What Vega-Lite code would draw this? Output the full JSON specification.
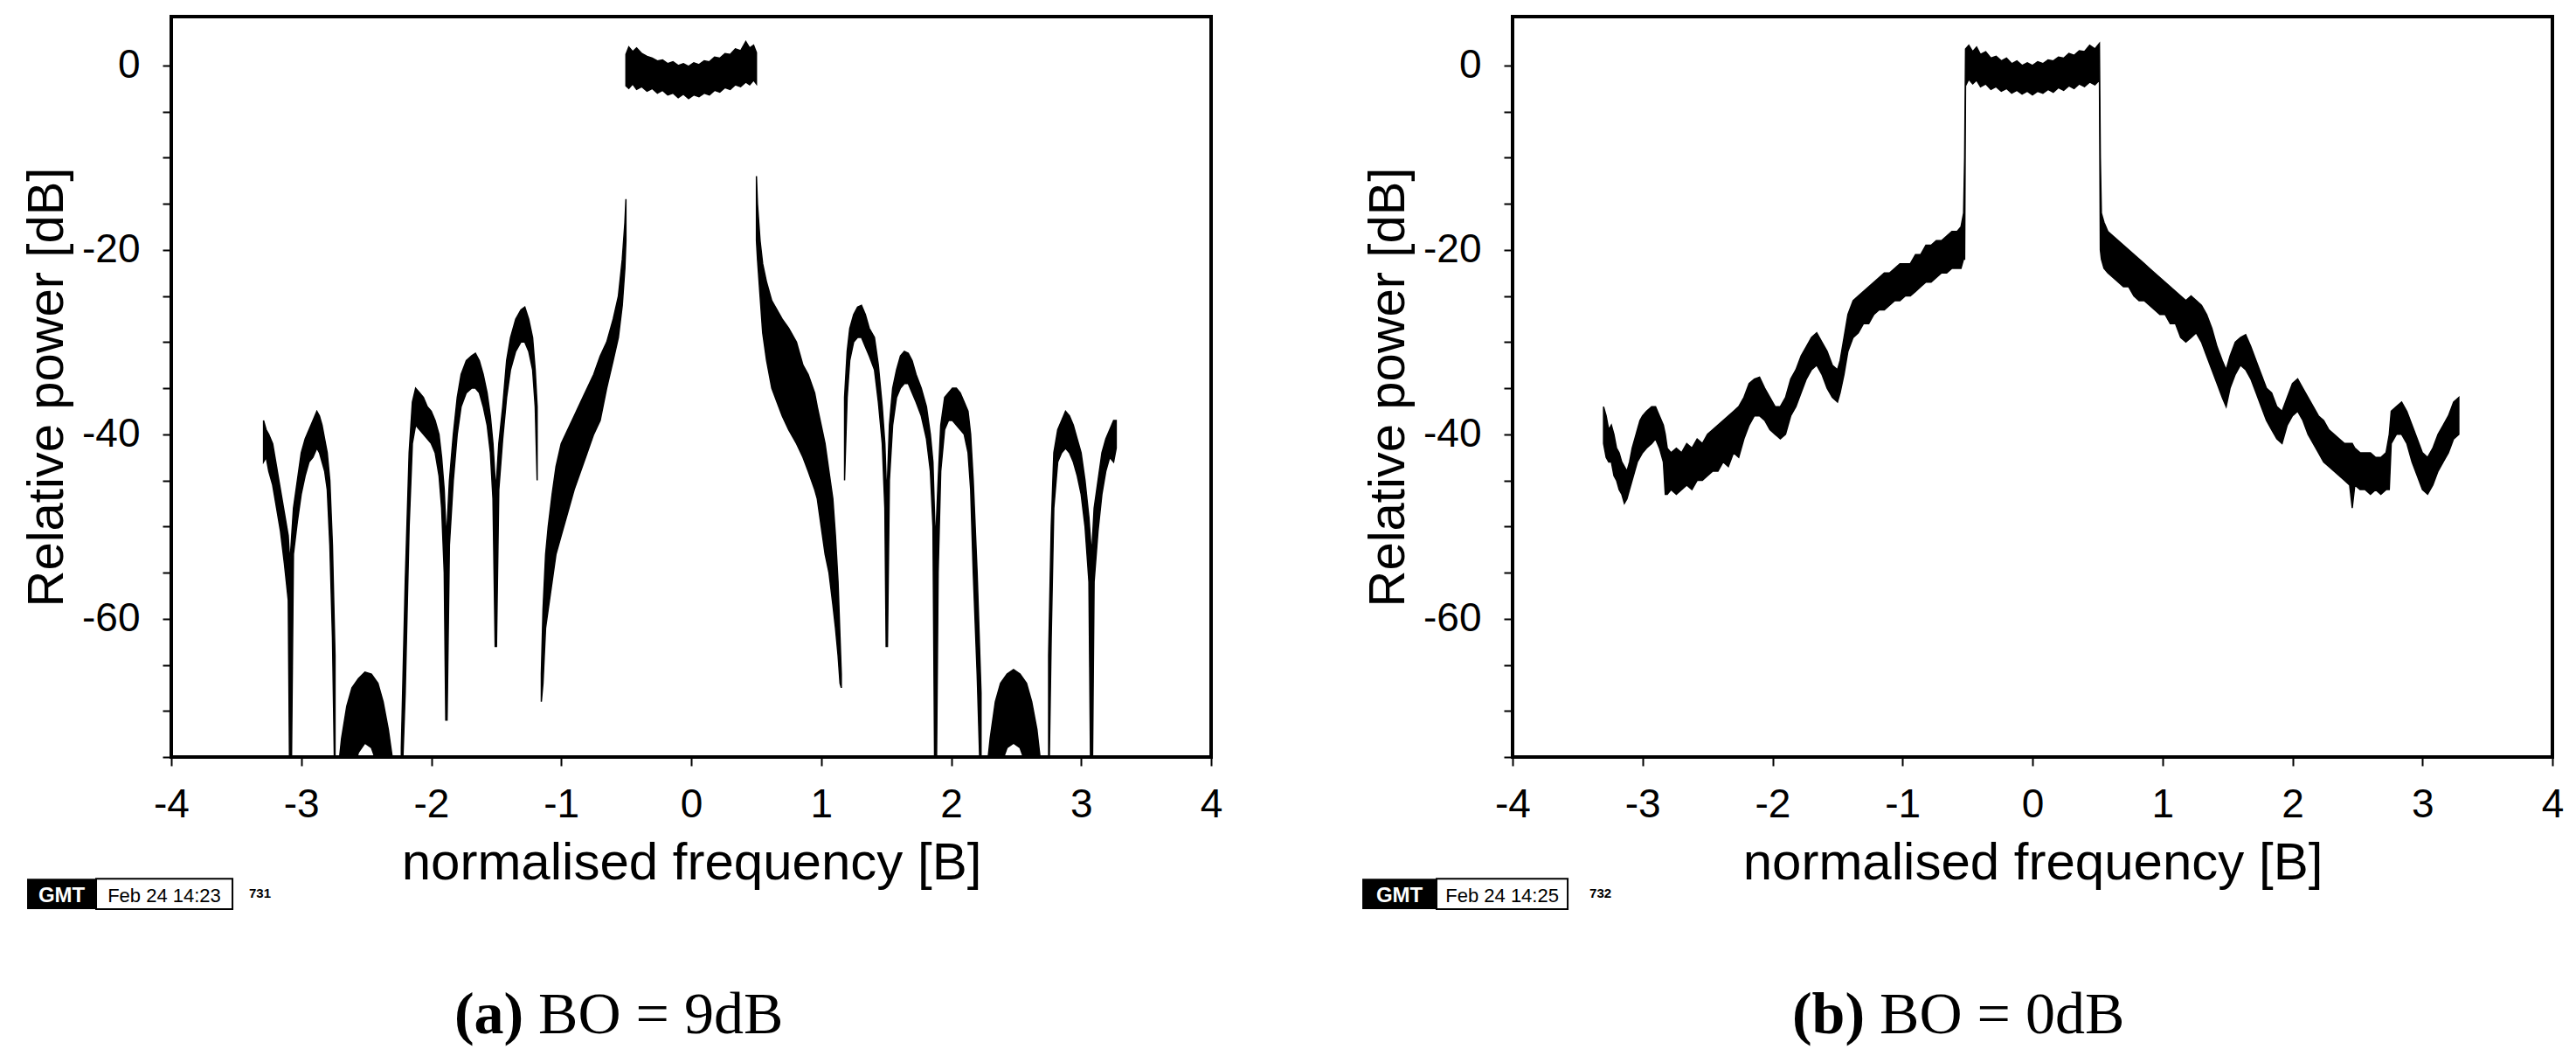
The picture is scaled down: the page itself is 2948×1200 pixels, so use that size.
{
  "$schema": "https://vega.github.io/schema/vega-lite/v6.json",
  "padding": {"left": 23, "top": 17, "right": 5, "bottom": 0},
  "background": "white",
  "spacing": 156,
  "config": {
    "view": {"stroke": "black", "strokeWidth": 4},
    "axis": {"labelFont": "Liberation Sans", "titleFont": "Liberation Sans", "labelColor": "black", "titleColor": "black", "tickColor": "black", "tickWidth": 2, "domain": false, "grid": false, "titleFontWeight": "normal", "labelOverlap": false},
    "text": {"color": "black"}
  },
  "datasets": {
    "bo9": [
      {"s": "A", "f": -3.29, "lo": -43, "hi": -38.5}, {"s": "A", "f": -3.27, "lo": -42.5, "hi": -39.5}, {"s": "A", "f": -3.25, "lo": -44, "hi": -40}, {"s": "A", "f": -3.22, "lo": -45.5, "hi": -41}, {"s": "A", "f": -3.19, "lo": -48, "hi": -43.5}, {"s": "A", "f": -3.16, "lo": -50.5, "hi": -46}, {"s": "A", "f": -3.13, "lo": -54, "hi": -48.5}, {"s": "A", "f": -3.1, "lo": -58, "hi": -51}, {"s": "A", "f": -3.088, "lo": -80, "hi": -54}, {"s": "A", "f": -3.078, "lo": -80, "hi": -52}, {"s": "A", "f": -3.06, "lo": -53, "hi": -48}, {"s": "A", "f": -3.03, "lo": -49.5, "hi": -45}, {"s": "A", "f": -3.0, "lo": -46.5, "hi": -42}, {"s": "A", "f": -2.97, "lo": -44.5, "hi": -40.5}, {"s": "A", "f": -2.94, "lo": -43, "hi": -39.5}, {"s": "A", "f": -2.91, "lo": -42.5, "hi": -38.5}, {"s": "A", "f": -2.88, "lo": -41.5, "hi": -37.5}, {"s": "A", "f": -2.86, "lo": -42, "hi": -38}, {"s": "A", "f": -2.84, "lo": -43, "hi": -39}, {"s": "A", "f": -2.82, "lo": -44, "hi": -40.5}, {"s": "A", "f": -2.8, "lo": -46, "hi": -42}, {"s": "A", "f": -2.78, "lo": -52, "hi": -45}, {"s": "A", "f": -2.76, "lo": -62, "hi": -52}, {"s": "A", "f": -2.74, "lo": -80, "hi": -64},
      {"s": "B", "f": -2.72, "lo": -80, "hi": -77}, {"s": "B", "f": -2.69, "lo": -79, "hi": -73}, {"s": "B", "f": -2.65, "lo": -80, "hi": -69.5}, {"s": "B", "f": -2.61, "lo": -77, "hi": -67.5}, {"s": "B", "f": -2.56, "lo": -74.5, "hi": -66.5}, {"s": "B", "f": -2.51, "lo": -73.5, "hi": -65.8}, {"s": "B", "f": -2.46, "lo": -74, "hi": -66}, {"s": "B", "f": -2.41, "lo": -76, "hi": -67}, {"s": "B", "f": -2.37, "lo": -80, "hi": -69}, {"s": "B", "f": -2.33, "lo": -79, "hi": -72}, {"s": "B", "f": -2.29, "lo": -80, "hi": -76},
      {"s": "C", "f": -2.23, "lo": -80, "hi": -74}, {"s": "C", "f": -2.2, "lo": -68, "hi": -56}, {"s": "C", "f": -2.17, "lo": -50, "hi": -42}, {"s": "C", "f": -2.145, "lo": -41, "hi": -36.5}, {"s": "C", "f": -2.12, "lo": -39, "hi": -35}, {"s": "C", "f": -2.09, "lo": -39.5, "hi": -35.5}, {"s": "C", "f": -2.06, "lo": -40, "hi": -36}, {"s": "C", "f": -2.03, "lo": -40.5, "hi": -37}, {"s": "C", "f": -2.0, "lo": -41, "hi": -37.5}, {"s": "C", "f": -1.97, "lo": -42, "hi": -38.5}, {"s": "C", "f": -1.94, "lo": -44.5, "hi": -40}, {"s": "C", "f": -1.92, "lo": -48, "hi": -42.5}, {"s": "C", "f": -1.9, "lo": -55, "hi": -46}, {"s": "C", "f": -1.888, "lo": -71, "hi": -50}, {"s": "C", "f": -1.878, "lo": -71, "hi": -50}, {"s": "C", "f": -1.86, "lo": -52, "hi": -45}, {"s": "C", "f": -1.83, "lo": -45, "hi": -40}, {"s": "C", "f": -1.8, "lo": -40, "hi": -36}, {"s": "C", "f": -1.77, "lo": -37, "hi": -33.5}, {"s": "C", "f": -1.73, "lo": -35.5, "hi": -32}, {"s": "C", "f": -1.69, "lo": -35, "hi": -31.5}, {"s": "C", "f": -1.66, "lo": -35, "hi": -31.2}, {"s": "C", "f": -1.63, "lo": -35.5, "hi": -32}, {"s": "C", "f": -1.6, "lo": -37, "hi": -33.5}, {"s": "C", "f": -1.57, "lo": -39, "hi": -35.5}, {"s": "C", "f": -1.545, "lo": -42, "hi": -38}, {"s": "C", "f": -1.525, "lo": -47, "hi": -41}, {"s": "C", "f": -1.508, "lo": -63, "hi": -45}, {"s": "C", "f": -1.498, "lo": -63, "hi": -45}, {"s": "C", "f": -1.48, "lo": -46, "hi": -41}, {"s": "C", "f": -1.45, "lo": -40.5, "hi": -37}, {"s": "C", "f": -1.42, "lo": -36, "hi": -32}, {"s": "C", "f": -1.39, "lo": -33, "hi": -29.5}, {"s": "C", "f": -1.35, "lo": -31, "hi": -27.5}, {"s": "C", "f": -1.31, "lo": -30, "hi": -26.5}, {"s": "C", "f": -1.28, "lo": -30, "hi": -26.2}, {"s": "C", "f": -1.25, "lo": -31, "hi": -27.5}, {"s": "C", "f": -1.22, "lo": -33, "hi": -29.5}, {"s": "C", "f": -1.2, "lo": -37, "hi": -33}, {"s": "C", "f": -1.185, "lo": -45, "hi": -37},
      {"s": "D", "f": -1.153, "lo": -69, "hi": -66}, {"s": "D", "f": -1.14, "lo": -67, "hi": -59}, {"s": "D", "f": -1.12, "lo": -61, "hi": -53}, {"s": "D", "f": -1.1, "lo": -59, "hi": -50}, {"s": "D", "f": -1.07, "lo": -56, "hi": -46.5}, {"s": "D", "f": -1.04, "lo": -53, "hi": -43.5}, {"s": "D", "f": -1.0, "lo": -51, "hi": -41}, {"s": "D", "f": -0.95, "lo": -48.5, "hi": -39.5}, {"s": "D", "f": -0.9, "lo": -46, "hi": -38}, {"s": "D", "f": -0.85, "lo": -44, "hi": -36.5}, {"s": "D", "f": -0.8, "lo": -42, "hi": -35}, {"s": "D", "f": -0.75, "lo": -40, "hi": -33.5}, {"s": "D", "f": -0.7, "lo": -38.5, "hi": -31.5}, {"s": "D", "f": -0.65, "lo": -35, "hi": -30}, {"s": "D", "f": -0.6, "lo": -32, "hi": -27.5}, {"s": "D", "f": -0.56, "lo": -29.5, "hi": -25}, {"s": "D", "f": -0.53, "lo": -26, "hi": -21}, {"s": "D", "f": -0.51, "lo": -22, "hi": -17}, {"s": "D", "f": -0.502, "lo": -19, "hi": -14.5},
      {"s": "E", "f": -0.502, "lo": -2.2, "hi": 1.2}, {"s": "E", "f": -0.48, "lo": -2.5, "hi": 2.0}, {"s": "E", "f": -0.45, "lo": -2.0, "hi": 1.5}, {"s": "E", "f": -0.42, "lo": -2.6, "hi": 1.9}, {"s": "E", "f": -0.38, "lo": -2.3, "hi": 1.3}, {"s": "E", "f": -0.34, "lo": -2.8, "hi": 1.0}, {"s": "E", "f": -0.3, "lo": -2.5, "hi": 0.8}, {"s": "E", "f": -0.26, "lo": -3.0, "hi": 0.5}, {"s": "E", "f": -0.22, "lo": -2.7, "hi": 0.6}, {"s": "E", "f": -0.18, "lo": -3.2, "hi": 0.2}, {"s": "E", "f": -0.14, "lo": -3.0, "hi": 0.4}, {"s": "E", "f": -0.1, "lo": -3.5, "hi": 0.0}, {"s": "E", "f": -0.06, "lo": -3.1, "hi": 0.2}, {"s": "E", "f": -0.02, "lo": -3.6, "hi": -0.1}, {"s": "E", "f": 0.02, "lo": -3.2, "hi": 0.3}, {"s": "E", "f": 0.06, "lo": -3.4, "hi": 0.1}, {"s": "E", "f": 0.1, "lo": -3.0, "hi": 0.5}, {"s": "E", "f": 0.14, "lo": -3.2, "hi": 0.4}, {"s": "E", "f": 0.18, "lo": -2.7, "hi": 0.9}, {"s": "E", "f": 0.22, "lo": -2.9, "hi": 0.8}, {"s": "E", "f": 0.26, "lo": -2.4, "hi": 1.3}, {"s": "E", "f": 0.3, "lo": -2.6, "hi": 1.2}, {"s": "E", "f": 0.34, "lo": -2.1, "hi": 1.8}, {"s": "E", "f": 0.38, "lo": -2.3, "hi": 1.6}, {"s": "E", "f": 0.42, "lo": -1.8, "hi": 2.6}, {"s": "E", "f": 0.45, "lo": -2.1, "hi": 1.9}, {"s": "E", "f": 0.48, "lo": -1.6, "hi": 2.2}, {"s": "E", "f": 0.502, "lo": -2.0, "hi": 1.4},
      {"s": "F", "f": 0.502, "lo": -19, "hi": -12}, {"s": "F", "f": 0.51, "lo": -21, "hi": -15}, {"s": "F", "f": 0.53, "lo": -25, "hi": -19}, {"s": "F", "f": 0.55, "lo": -29, "hi": -21.5}, {"s": "F", "f": 0.58, "lo": -32, "hi": -23.5}, {"s": "F", "f": 0.62, "lo": -35, "hi": -25.5}, {"s": "F", "f": 0.66, "lo": -36.5, "hi": -26.5}, {"s": "F", "f": 0.7, "lo": -38, "hi": -27.5}, {"s": "F", "f": 0.75, "lo": -39.5, "hi": -28.5}, {"s": "F", "f": 0.81, "lo": -41, "hi": -30}, {"s": "F", "f": 0.86, "lo": -42.5, "hi": -32.5}, {"s": "F", "f": 0.9, "lo": -44, "hi": -33.5}, {"s": "F", "f": 0.95, "lo": -46, "hi": -35.5}, {"s": "F", "f": 0.97, "lo": -47, "hi": -37}, {"s": "F", "f": 1.0, "lo": -50, "hi": -39}, {"s": "F", "f": 1.03, "lo": -53, "hi": -41}, {"s": "F", "f": 1.06, "lo": -55, "hi": -44}, {"s": "F", "f": 1.09, "lo": -58.5, "hi": -47}, {"s": "F", "f": 1.11, "lo": -61, "hi": -51}, {"s": "F", "f": 1.13, "lo": -64, "hi": -56}, {"s": "F", "f": 1.145, "lo": -67, "hi": -62}, {"s": "F", "f": 1.155, "lo": -67.5, "hi": -66},
      {"s": "G", "f": 1.18, "lo": -45, "hi": -36}, {"s": "G", "f": 1.2, "lo": -36, "hi": -31}, {"s": "G", "f": 1.22, "lo": -32, "hi": -28.5}, {"s": "G", "f": 1.25, "lo": -30, "hi": -27}, {"s": "G", "f": 1.28, "lo": -29.5, "hi": -26.2}, {"s": "G", "f": 1.31, "lo": -29.5, "hi": -26}, {"s": "G", "f": 1.34, "lo": -30.5, "hi": -27}, {"s": "G", "f": 1.37, "lo": -31.5, "hi": -28.5}, {"s": "G", "f": 1.41, "lo": -33, "hi": -29.5}, {"s": "G", "f": 1.44, "lo": -36.5, "hi": -32.5}, {"s": "G", "f": 1.47, "lo": -41, "hi": -37}, {"s": "G", "f": 1.49, "lo": -48, "hi": -41}, {"s": "G", "f": 1.5, "lo": -63, "hi": -45}, {"s": "G", "f": 1.51, "lo": -63, "hi": -45}, {"s": "G", "f": 1.525, "lo": -45, "hi": -39}, {"s": "G", "f": 1.55, "lo": -39, "hi": -35}, {"s": "G", "f": 1.58, "lo": -36, "hi": -33}, {"s": "G", "f": 1.61, "lo": -35, "hi": -31.5}, {"s": "G", "f": 1.64, "lo": -34.5, "hi": -31}, {"s": "G", "f": 1.67, "lo": -34.5, "hi": -31.2}, {"s": "G", "f": 1.7, "lo": -35.5, "hi": -32}, {"s": "G", "f": 1.73, "lo": -36.5, "hi": -33.5}, {"s": "G", "f": 1.77, "lo": -38, "hi": -35}, {"s": "G", "f": 1.81, "lo": -40.5, "hi": -37}, {"s": "G", "f": 1.84, "lo": -44, "hi": -40}, {"s": "G", "f": 1.86, "lo": -50, "hi": -43}, {"s": "G", "f": 1.875, "lo": -80, "hi": -50}, {"s": "G", "f": 1.885, "lo": -80, "hi": -50}, {"s": "G", "f": 1.9, "lo": -55, "hi": -45}, {"s": "G", "f": 1.92, "lo": -44, "hi": -39}, {"s": "G", "f": 1.95, "lo": -39.5, "hi": -36}, {"s": "G", "f": 1.98, "lo": -38.5, "hi": -35.5}, {"s": "G", "f": 2.01, "lo": -38.5, "hi": -35}, {"s": "G", "f": 2.04, "lo": -39, "hi": -35}, {"s": "G", "f": 2.07, "lo": -39.5, "hi": -35.5}, {"s": "G", "f": 2.1, "lo": -40, "hi": -36.5}, {"s": "G", "f": 2.13, "lo": -42, "hi": -37.5}, {"s": "G", "f": 2.15, "lo": -46, "hi": -40}, {"s": "G", "f": 2.17, "lo": -55, "hi": -45}, {"s": "G", "f": 2.2, "lo": -66, "hi": -55}, {"s": "G", "f": 2.23, "lo": -80, "hi": -68},
      {"s": "H", "f": 2.27, "lo": -80, "hi": -77}, {"s": "H", "f": 2.3, "lo": -79, "hi": -73}, {"s": "H", "f": 2.34, "lo": -80, "hi": -69}, {"s": "H", "f": 2.38, "lo": -76, "hi": -67}, {"s": "H", "f": 2.43, "lo": -74, "hi": -66}, {"s": "H", "f": 2.48, "lo": -73.5, "hi": -65.5}, {"s": "H", "f": 2.53, "lo": -74, "hi": -66}, {"s": "H", "f": 2.58, "lo": -76, "hi": -67}, {"s": "H", "f": 2.62, "lo": -80, "hi": -69}, {"s": "H", "f": 2.66, "lo": -79, "hi": -72}, {"s": "H", "f": 2.7, "lo": -80, "hi": -77},
      {"s": "I", "f": 2.75, "lo": -80, "hi": -64}, {"s": "I", "f": 2.77, "lo": -62, "hi": -50}, {"s": "I", "f": 2.79, "lo": -48, "hi": -42}, {"s": "I", "f": 2.82, "lo": -43, "hi": -39.5}, {"s": "I", "f": 2.85, "lo": -42, "hi": -38.5}, {"s": "I", "f": 2.88, "lo": -41.5, "hi": -37.5}, {"s": "I", "f": 2.91, "lo": -42, "hi": -38}, {"s": "I", "f": 2.94, "lo": -43, "hi": -39}, {"s": "I", "f": 2.97, "lo": -44.5, "hi": -40.5}, {"s": "I", "f": 3.0, "lo": -46.5, "hi": -42}, {"s": "I", "f": 3.03, "lo": -50, "hi": -45}, {"s": "I", "f": 3.06, "lo": -56, "hi": -49}, {"s": "I", "f": 3.075, "lo": -80, "hi": -52}, {"s": "I", "f": 3.085, "lo": -80, "hi": -52}, {"s": "I", "f": 3.1, "lo": -56, "hi": -48}, {"s": "I", "f": 3.13, "lo": -50.5, "hi": -45}, {"s": "I", "f": 3.16, "lo": -46.5, "hi": -42}, {"s": "I", "f": 3.19, "lo": -44, "hi": -40.5}, {"s": "I", "f": 3.22, "lo": -42.5, "hi": -39.5}, {"s": "I", "f": 3.25, "lo": -43, "hi": -38.5}, {"s": "I", "f": 3.27, "lo": -41.5, "hi": -38.5}
    ],
    "bo0": [
      {"s": "R", "f": -3.3, "lo": -41, "hi": -37}, {"s": "R", "f": -3.28, "lo": -42.5, "hi": -38}, {"s": "R", "f": -3.26, "lo": -43, "hi": -39.5}, {"s": "R", "f": -3.24, "lo": -43, "hi": -39}, {"s": "R", "f": -3.22, "lo": -44.5, "hi": -40}, {"s": "R", "f": -3.2, "lo": -45, "hi": -41.5}, {"s": "R", "f": -3.18, "lo": -46, "hi": -42}, {"s": "R", "f": -3.16, "lo": -46.5, "hi": -43}, {"s": "R", "f": -3.14, "lo": -47.5, "hi": -43.5}, {"s": "R", "f": -3.12, "lo": -47, "hi": -44}, {"s": "R", "f": -3.1, "lo": -46, "hi": -43}, {"s": "R", "f": -3.08, "lo": -45, "hi": -41.5}, {"s": "R", "f": -3.06, "lo": -44, "hi": -40.5}, {"s": "R", "f": -3.04, "lo": -43, "hi": -39.5}, {"s": "R", "f": -3.02, "lo": -42.5, "hi": -38.5}, {"s": "R", "f": -3.0, "lo": -42, "hi": -38}, {"s": "R", "f": -2.97, "lo": -41.5, "hi": -37.5}, {"s": "R", "f": -2.93, "lo": -41, "hi": -37}, {"s": "R", "f": -2.9, "lo": -40.5, "hi": -37}, {"s": "R", "f": -2.87, "lo": -41.5, "hi": -38}, {"s": "R", "f": -2.84, "lo": -43, "hi": -39}, {"s": "R", "f": -2.825, "lo": -46.5, "hi": -40}, {"s": "R", "f": -2.81, "lo": -46.5, "hi": -41.5}, {"s": "R", "f": -2.78, "lo": -46, "hi": -42}, {"s": "R", "f": -2.74, "lo": -46.5, "hi": -41.5}, {"s": "R", "f": -2.7, "lo": -46, "hi": -42}, {"s": "R", "f": -2.66, "lo": -45.5, "hi": -41}, {"s": "R", "f": -2.62, "lo": -46, "hi": -41.5}, {"s": "R", "f": -2.58, "lo": -45, "hi": -40.5}, {"s": "R", "f": -2.54, "lo": -45, "hi": -41}, {"s": "R", "f": -2.5, "lo": -44.5, "hi": -40}, {"s": "R", "f": -2.46, "lo": -44, "hi": -39.5}, {"s": "R", "f": -2.42, "lo": -44, "hi": -39}, {"s": "R", "f": -2.38, "lo": -43, "hi": -38.5}, {"s": "R", "f": -2.34, "lo": -43.5, "hi": -38}, {"s": "R", "f": -2.3, "lo": -42, "hi": -37.5}, {"s": "R", "f": -2.26, "lo": -42.5, "hi": -37}, {"s": "R", "f": -2.22, "lo": -40.5, "hi": -36}, {"s": "R", "f": -2.18, "lo": -39, "hi": -34.5}, {"s": "R", "f": -2.14, "lo": -38, "hi": -34}, {"s": "R", "f": -2.1, "lo": -38, "hi": -33.8}, {"s": "R", "f": -2.06, "lo": -38.5, "hi": -35}, {"s": "R", "f": -2.02, "lo": -39.5, "hi": -36}, {"s": "R", "f": -1.98, "lo": -40, "hi": -37}, {"s": "R", "f": -1.94, "lo": -40.5, "hi": -37}, {"s": "R", "f": -1.9, "lo": -40, "hi": -36}, {"s": "R", "f": -1.86, "lo": -38, "hi": -34}, {"s": "R", "f": -1.82, "lo": -37, "hi": -33}, {"s": "R", "f": -1.78, "lo": -35.5, "hi": -31.5}, {"s": "R", "f": -1.74, "lo": -34, "hi": -30.5}, {"s": "R", "f": -1.7, "lo": -33, "hi": -29.5}, {"s": "R", "f": -1.66, "lo": -32.5, "hi": -29}, {"s": "R", "f": -1.62, "lo": -33.5, "hi": -30}, {"s": "R", "f": -1.58, "lo": -35, "hi": -31}, {"s": "R", "f": -1.54, "lo": -36, "hi": -32.5}, {"s": "R", "f": -1.5, "lo": -36.5, "hi": -33}, {"s": "R", "f": -1.48, "lo": -35.5, "hi": -32}, {"s": "R", "f": -1.45, "lo": -33.5, "hi": -29.5}, {"s": "R", "f": -1.42, "lo": -31, "hi": -27}, {"s": "R", "f": -1.38, "lo": -29.5, "hi": -25.5}, {"s": "R", "f": -1.34, "lo": -29, "hi": -25}, {"s": "R", "f": -1.3, "lo": -28, "hi": -24.5}, {"s": "R", "f": -1.26, "lo": -28, "hi": -24}, {"s": "R", "f": -1.22, "lo": -27, "hi": -23.5}, {"s": "R", "f": -1.18, "lo": -26.5, "hi": -23}, {"s": "R", "f": -1.14, "lo": -26.5, "hi": -22.5}, {"s": "R", "f": -1.1, "lo": -26, "hi": -22.5}, {"s": "R", "f": -1.06, "lo": -25.5, "hi": -22}, {"s": "R", "f": -1.02, "lo": -25.5, "hi": -21.5}, {"s": "R", "f": -0.98, "lo": -25, "hi": -21.5}, {"s": "R", "f": -0.94, "lo": -25, "hi": -21.5}, {"s": "R", "f": -0.9, "lo": -24.5, "hi": -20.5}, {"s": "R", "f": -0.86, "lo": -24, "hi": -20.5}, {"s": "R", "f": -0.82, "lo": -23.5, "hi": -19.5}, {"s": "R", "f": -0.78, "lo": -23.5, "hi": -19.5}, {"s": "R", "f": -0.74, "lo": -23, "hi": -19}, {"s": "R", "f": -0.7, "lo": -22.5, "hi": -19}, {"s": "R", "f": -0.66, "lo": -22.5, "hi": -18.5}, {"s": "R", "f": -0.62, "lo": -22, "hi": -18}, {"s": "R", "f": -0.58, "lo": -22, "hi": -18}, {"s": "R", "f": -0.55, "lo": -22, "hi": -17.5}, {"s": "R", "f": -0.53, "lo": -21, "hi": -16}, {"s": "R", "f": -0.522, "lo": -21, "hi": -10},
      {"s": "R", "f": -0.515, "lo": -2.2, "hi": 1.8}, {"s": "R", "f": -0.49, "lo": -1.5, "hi": 2.2}, {"s": "R", "f": -0.46, "lo": -2.0, "hi": 1.5}, {"s": "R", "f": -0.43, "lo": -1.6, "hi": 2.0}, {"s": "R", "f": -0.4, "lo": -2.3, "hi": 1.2}, {"s": "R", "f": -0.36, "lo": -2.0, "hi": 1.5}, {"s": "R", "f": -0.32, "lo": -2.6, "hi": 0.8}, {"s": "R", "f": -0.28, "lo": -2.3, "hi": 1.0}, {"s": "R", "f": -0.24, "lo": -2.8, "hi": 0.5}, {"s": "R", "f": -0.2, "lo": -2.5, "hi": 0.8}, {"s": "R", "f": -0.16, "lo": -3.0, "hi": 0.2}, {"s": "R", "f": -0.12, "lo": -2.7, "hi": 0.5}, {"s": "R", "f": -0.08, "lo": -3.1, "hi": 0.0}, {"s": "R", "f": -0.04, "lo": -2.8, "hi": 0.3}, {"s": "R", "f": 0.0, "lo": -3.2, "hi": 0.0}, {"s": "R", "f": 0.04, "lo": -2.8, "hi": 0.4}, {"s": "R", "f": 0.08, "lo": -3.0, "hi": 0.2}, {"s": "R", "f": 0.12, "lo": -2.6, "hi": 0.6}, {"s": "R", "f": 0.16, "lo": -2.9, "hi": 0.5}, {"s": "R", "f": 0.2, "lo": -2.4, "hi": 0.9}, {"s": "R", "f": 0.24, "lo": -2.7, "hi": 0.8}, {"s": "R", "f": 0.28, "lo": -2.2, "hi": 1.3}, {"s": "R", "f": 0.32, "lo": -2.5, "hi": 1.1}, {"s": "R", "f": 0.36, "lo": -2.0, "hi": 1.6}, {"s": "R", "f": 0.4, "lo": -2.3, "hi": 1.5}, {"s": "R", "f": 0.44, "lo": -1.8, "hi": 2.2}, {"s": "R", "f": 0.48, "lo": -2.1, "hi": 1.8}, {"s": "R", "f": 0.515, "lo": -1.6, "hi": 2.4},
      {"s": "R", "f": 0.522, "lo": -20, "hi": -10}, {"s": "R", "f": 0.53, "lo": -21, "hi": -16}, {"s": "R", "f": 0.55, "lo": -22, "hi": -17}, {"s": "R", "f": 0.58, "lo": -22.5, "hi": -18}, {"s": "R", "f": 0.62, "lo": -23, "hi": -18.5}, {"s": "R", "f": 0.66, "lo": -23.5, "hi": -19}, {"s": "R", "f": 0.7, "lo": -24, "hi": -19.5}, {"s": "R", "f": 0.74, "lo": -24, "hi": -20}, {"s": "R", "f": 0.78, "lo": -25, "hi": -20.5}, {"s": "R", "f": 0.82, "lo": -25.5, "hi": -21}, {"s": "R", "f": 0.86, "lo": -25.5, "hi": -21.5}, {"s": "R", "f": 0.9, "lo": -26, "hi": -22}, {"s": "R", "f": 0.94, "lo": -26.5, "hi": -22.5}, {"s": "R", "f": 0.98, "lo": -27, "hi": -23}, {"s": "R", "f": 1.02, "lo": -27, "hi": -23.5}, {"s": "R", "f": 1.06, "lo": -28, "hi": -24}, {"s": "R", "f": 1.1, "lo": -28, "hi": -24.5}, {"s": "R", "f": 1.14, "lo": -29.5, "hi": -25}, {"s": "R", "f": 1.18, "lo": -30, "hi": -25.5}, {"s": "R", "f": 1.22, "lo": -29.5, "hi": -25}, {"s": "R", "f": 1.26, "lo": -29, "hi": -25.5}, {"s": "R", "f": 1.3, "lo": -30, "hi": -26}, {"s": "R", "f": 1.34, "lo": -31.5, "hi": -27}, {"s": "R", "f": 1.38, "lo": -33, "hi": -28.5}, {"s": "R", "f": 1.42, "lo": -34.5, "hi": -30.5}, {"s": "R", "f": 1.46, "lo": -36, "hi": -32}, {"s": "R", "f": 1.49, "lo": -37, "hi": -33}, {"s": "R", "f": 1.52, "lo": -35, "hi": -31.5}, {"s": "R", "f": 1.56, "lo": -33.5, "hi": -30}, {"s": "R", "f": 1.6, "lo": -32.5, "hi": -29.5}, {"s": "R", "f": 1.64, "lo": -33, "hi": -29.2}, {"s": "R", "f": 1.68, "lo": -34, "hi": -30.5}, {"s": "R", "f": 1.72, "lo": -35.5, "hi": -32}, {"s": "R", "f": 1.76, "lo": -37, "hi": -33.5}, {"s": "R", "f": 1.8, "lo": -38.5, "hi": -35}, {"s": "R", "f": 1.84, "lo": -39.5, "hi": -35.5}, {"s": "R", "f": 1.88, "lo": -40.5, "hi": -37}, {"s": "R", "f": 1.92, "lo": -41, "hi": -37.5}, {"s": "R", "f": 1.96, "lo": -39, "hi": -36}, {"s": "R", "f": 2.0, "lo": -38, "hi": -34.5}, {"s": "R", "f": 2.04, "lo": -37.5, "hi": -34}, {"s": "R", "f": 2.08, "lo": -38.5, "hi": -35}, {"s": "R", "f": 2.12, "lo": -40, "hi": -36}, {"s": "R", "f": 2.16, "lo": -41, "hi": -37}, {"s": "R", "f": 2.2, "lo": -42, "hi": -38}, {"s": "R", "f": 2.24, "lo": -43, "hi": -38.5}, {"s": "R", "f": 2.28, "lo": -43.5, "hi": -39.5}, {"s": "R", "f": 2.32, "lo": -44, "hi": -40}, {"s": "R", "f": 2.36, "lo": -44.5, "hi": -40.5}, {"s": "R", "f": 2.4, "lo": -45, "hi": -41}, {"s": "R", "f": 2.44, "lo": -45.5, "hi": -41}, {"s": "R", "f": 2.46, "lo": -48, "hi": -41}, {"s": "R", "f": 2.48, "lo": -45.5, "hi": -41.5}, {"s": "R", "f": 2.52, "lo": -46, "hi": -42}, {"s": "R", "f": 2.56, "lo": -46, "hi": -42}, {"s": "R", "f": 2.6, "lo": -46.5, "hi": -42}, {"s": "R", "f": 2.64, "lo": -46, "hi": -42.5}, {"s": "R", "f": 2.68, "lo": -46.5, "hi": -42.5}, {"s": "R", "f": 2.72, "lo": -46, "hi": -42}, {"s": "R", "f": 2.745, "lo": -46, "hi": -40}, {"s": "R", "f": 2.76, "lo": -41, "hi": -37.5}, {"s": "R", "f": 2.8, "lo": -40, "hi": -37}, {"s": "R", "f": 2.84, "lo": -40, "hi": -36.5}, {"s": "R", "f": 2.88, "lo": -41, "hi": -37.5}, {"s": "R", "f": 2.92, "lo": -43, "hi": -39}, {"s": "R", "f": 2.96, "lo": -44.5, "hi": -40.5}, {"s": "R", "f": 3.0, "lo": -46, "hi": -42}, {"s": "R", "f": 3.04, "lo": -46.5, "hi": -42.5}, {"s": "R", "f": 3.08, "lo": -45.5, "hi": -41.5}, {"s": "R", "f": 3.12, "lo": -44, "hi": -40}, {"s": "R", "f": 3.16, "lo": -43, "hi": -39}, {"s": "R", "f": 3.2, "lo": -42, "hi": -38}, {"s": "R", "f": 3.24, "lo": -40.5, "hi": -36.5}, {"s": "R", "f": 3.28, "lo": -40, "hi": -36}
    ]
  },
  "hconcat": [
    {
      "width": 1190,
      "height": 847,
      "layer": [
        {
          "data": {"name": "bo9"},
          "mark": {"type": "area", "color": "black", "stroke": "black", "strokeWidth": 1.5, "clip": true, "interpolate": "linear"},
          "encoding": {
            "x": {"field": "f", "type": "quantitative", "scale": {"domain": [-4, 4], "nice": false, "zero": false},
              "axis": {"title": "normalised frequency [B]", "values": [-4, -3, -2, -1, 0, 1, 2, 3, 4],
                "labelExpr": "'' + datum.value",
                "tickSize": 10, "labelPadding": 22, "titlePadding": 15, "labelFlush": false, "labelOverlap": false, "labelFontSize": 46, "titleFontSize": 60}},
            "y": {"field": "lo", "type": "quantitative", "scale": {"domain": [-75, 5.3], "nice": false, "zero": false},
              "axis": {"title": "Relative power [dB]", "values": [-75, -70, -65, -60, -55, -50, -45, -40, -35, -30, -25, -20, -15, -10, -5, 0],
                "labelExpr": "datum.value % 20 === 0 ? '' + datum.value : ''",
                "tickSize": 10, "labelPadding": 26, "titlePadding": 10, "labelOverlap": false, "labelFontSize": 46, "titleFontSize": 58}},
            "y2": {"field": "hi"},
            "detail": {"field": "s", "type": "nominal"}
          }
        },
        {
          "data": {"values": [{"t": "GMT"}]},
          "mark": {"type": "rect", "color": "black"},
          "encoding": {"x": {"datum": -5.109}, "x2": {"datum": -4.578}, "y": {"datum": -88.2}, "y2": {"datum": -91.5}}
        },
        {
          "data": {"values": [{"t": "Feb 24 14:23"}]},
          "mark": {"type": "rect", "fill": "white", "stroke": "black", "strokeWidth": 2},
          "encoding": {"x": {"datum": -4.578}, "x2": {"datum": -3.529}, "y": {"datum": -88.2}, "y2": {"datum": -91.5}}
        },
        {
          "data": {"values": [{"t": "GMT"}]},
          "mark": {"type": "text", "color": "white", "fontWeight": "bold", "font": "Liberation Sans", "fontSize": 24, "baseline": "alphabetic", "align": "center"},
          "encoding": {"x": {"datum": -4.843}, "y": {"datum": -90.7}, "text": {"field": "t"}}
        },
        {
          "data": {"values": [{"t": "Feb 24 14:23"}]},
          "mark": {"type": "text", "font": "Liberation Sans", "fontSize": 22, "baseline": "alphabetic", "align": "center"},
          "encoding": {"x": {"datum": -4.054}, "y": {"datum": -90.7}, "text": {"field": "t"}}
        },
        {
          "data": {"values": [{"t": "731"}]},
          "mark": {"type": "text", "font": "Liberation Sans", "fontSize": 15, "fontWeight": "bold", "baseline": "alphabetic", "align": "left"},
          "encoding": {"x": {"datum": -3.402}, "y": {"datum": -90.3}, "text": {"field": "t"}}
        },
        {
          "data": {"values": [{"t": "(a)"}]},
          "mark": {"type": "text", "font": "Liberation Serif", "fontSize": 68, "fontWeight": "bold", "baseline": "alphabetic", "align": "left"},
          "encoding": {"x": {"datum": -1.822}, "y": {"datum": -105}, "text": {"field": "t"}}
        },
        {
          "data": {"values": [{"t": "BO = 9dB"}]},
          "mark": {"type": "text", "font": "Liberation Serif", "fontSize": 68, "fontWeight": "normal", "baseline": "alphabetic", "align": "left"},
          "encoding": {"x": {"datum": -1.176}, "y": {"datum": -105}, "text": {"field": "t"}}
        }
      ]
    },
    {
      "width": 1190,
      "height": 847,
      "layer": [
        {
          "data": {"name": "bo0"},
          "mark": {"type": "area", "color": "black", "stroke": "black", "strokeWidth": 1.5, "clip": true, "interpolate": "linear"},
          "encoding": {
            "x": {"field": "f", "type": "quantitative", "scale": {"domain": [-4, 4], "nice": false, "zero": false},
              "axis": {"title": "normalised frequency [B]", "values": [-4, -3, -2, -1, 0, 1, 2, 3, 4],
                "labelExpr": "'' + datum.value",
                "tickSize": 10, "labelPadding": 22, "titlePadding": 15, "labelFlush": false, "labelOverlap": false, "labelFontSize": 46, "titleFontSize": 60}},
            "y": {"field": "lo", "type": "quantitative", "scale": {"domain": [-75, 5.3], "nice": false, "zero": false},
              "axis": {"title": "Relative power [dB]", "values": [-75, -70, -65, -60, -55, -50, -45, -40, -35, -30, -25, -20, -15, -10, -5, 0],
                "labelExpr": "datum.value % 20 === 0 ? '' + datum.value : ''",
                "tickSize": 10, "labelPadding": 26, "titlePadding": 10, "labelOverlap": false, "labelFontSize": 46, "titleFontSize": 58}},
            "y2": {"field": "hi"},
            "detail": {"field": "s", "type": "nominal"}
          }
        },
        {
          "data": {"values": [{"t": "GMT"}]},
          "mark": {"type": "rect", "color": "black"},
          "encoding": {"x": {"datum": -5.156}, "x2": {"datum": -4.585}, "y": {"datum": -88.2}, "y2": {"datum": -91.5}}
        },
        {
          "data": {"values": [{"t": "Feb 24 14:25"}]},
          "mark": {"type": "rect", "fill": "white", "stroke": "black", "strokeWidth": 2},
          "encoding": {"x": {"datum": -4.585}, "x2": {"datum": -3.576}, "y": {"datum": -88.2}, "y2": {"datum": -91.5}}
        },
        {
          "data": {"values": [{"t": "GMT"}]},
          "mark": {"type": "text", "color": "white", "fontWeight": "bold", "font": "Liberation Sans", "fontSize": 24, "baseline": "alphabetic", "align": "center"},
          "encoding": {"x": {"datum": -4.87}, "y": {"datum": -90.7}, "text": {"field": "t"}}
        },
        {
          "data": {"values": [{"t": "Feb 24 14:25"}]},
          "mark": {"type": "text", "font": "Liberation Sans", "fontSize": 22, "baseline": "alphabetic", "align": "center"},
          "encoding": {"x": {"datum": -4.08}, "y": {"datum": -90.7}, "text": {"field": "t"}}
        },
        {
          "data": {"values": [{"t": "732"}]},
          "mark": {"type": "text", "font": "Liberation Sans", "fontSize": 15, "fontWeight": "bold", "baseline": "alphabetic", "align": "left"},
          "encoding": {"x": {"datum": -3.408}, "y": {"datum": -90.3}, "text": {"field": "t"}}
        },
        {
          "data": {"values": [{"t": "(b)"}]},
          "mark": {"type": "text", "font": "Liberation Serif", "fontSize": 68, "fontWeight": "bold", "baseline": "alphabetic", "align": "left"},
          "encoding": {"x": {"datum": -1.849}, "y": {"datum": -105}, "text": {"field": "t"}}
        },
        {
          "data": {"values": [{"t": "BO = 0dB"}]},
          "mark": {"type": "text", "font": "Liberation Serif", "fontSize": 68, "fontWeight": "normal", "baseline": "alphabetic", "align": "left"},
          "encoding": {"x": {"datum": -1.176}, "y": {"datum": -105}, "text": {"field": "t"}}
        }
      ]
    }
  ]
}
